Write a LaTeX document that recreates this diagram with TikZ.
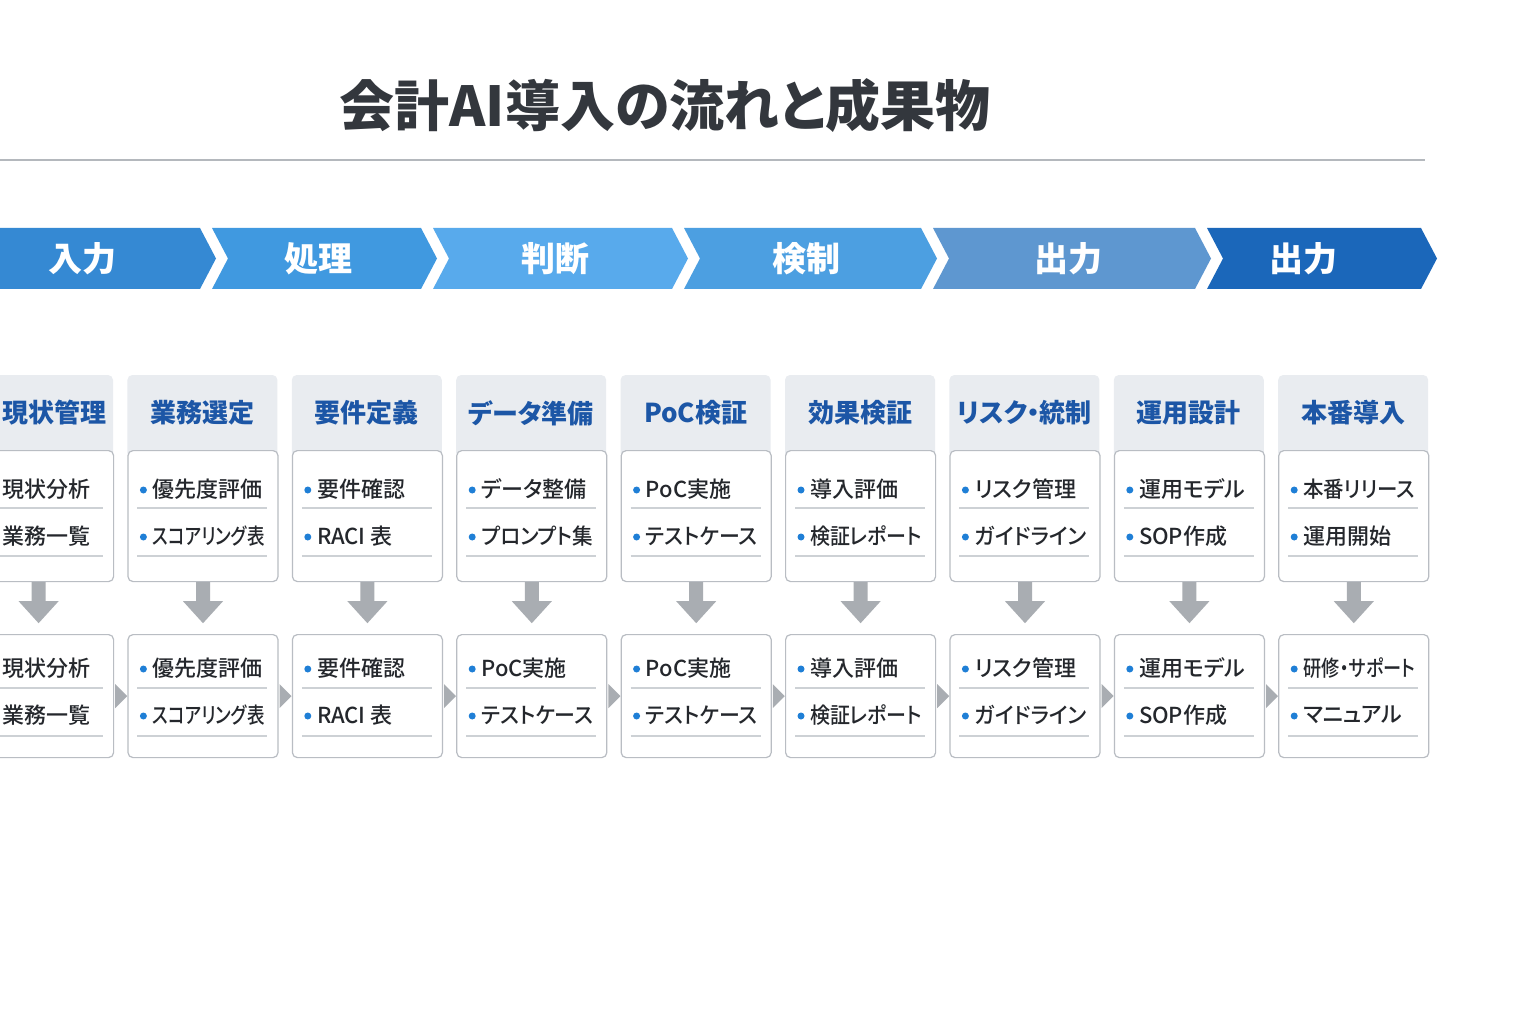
\documentclass[tikz,border=0pt]{standalone}
\usepackage{fontspec}
\setmainfont{Noto Sans CJK JP}[RawFeature=+palt]
\newfontfamily\medjp{Noto Sans CJK JP Medium}[RawFeature=+palt]
\usetikzlibrary{calc}
\definecolor{titlec}{HTML}{33373D}
\definecolor{rulec}{HTML}{B4B8BD}
\definecolor{ch1}{HTML}{3589D3}
\definecolor{ch2}{HTML}{4099E0}
\definecolor{ch3}{HTML}{58AAEC}
\definecolor{ch4}{HTML}{4C9FE1}
\definecolor{ch5}{HTML}{5E97D0}
\definecolor{ch6}{HTML}{1B67BA}
\definecolor{headc}{HTML}{E9ECF0}
\definecolor{headtxt}{HTML}{1C56A6}
\definecolor{boxline}{HTML}{B9BDC3}
\definecolor{sepc}{HTML}{CDD1D5}
\definecolor{itemc}{HTML}{24272C}
\definecolor{bulletc}{HTML}{1F7FD6}
\definecolor{arrc}{HTML}{A9ADB2}
\newsavebox\itembox
\newcommand\fitcap[1]{\sbox\itembox{#1}\ifdim\wd\itembox>112pt\relax\pgfmathsetmacro\fitr{112/(\wd\itembox)}\scalebox{\fitr}[1]{\usebox\itembox}\else\usebox\itembox\fi}
\tikzset{
  chevlabel/.style={text=white, font=\bfseries\fontsize{34}{36}\selectfont, inner sep=0pt},
  headlabel/.style={text=headtxt, font=\bfseries\fontsize{26}{28}\selectfont, inner sep=0pt},
  itemlabel/.style={text=itemc, font=\medjp\fontsize{22}{24}\selectfont, inner sep=0pt, anchor=west},
  cardbox/.style={draw=boxline, line width=1.2pt, fill=white, rounded corners=5pt, minimum width=150pt, inner sep=0pt, anchor=north west},
  sepline/.style={draw=sepc, line width=1.2pt},
  flowarrow/.style={fill=arrc}
}
\begin{document}
\begin{tikzpicture}[x=1pt,y=-1pt]
\useasboundingbox (0,0) rectangle (1536,1024);
\fill[white] (0,0) rectangle (1536,1024);
% title
\node[text=titlec, font=\bfseries\fontsize{55}{60}\selectfont, inner sep=0pt] (title) at (665,106) {会計AI導入の流れと成果物};
\draw[rulec, line width=1.5pt] (0,160) -- (1425,160);
% chevrons
\fill[ch1] (-20,228) -- (200,228) -- (216,258.5) -- (200,289) -- (-20,289) -- cycle;
\node[chevlabel] (c1) at (82,259) {入力};
\foreach \n/\xl/\xr/\cc/\tx/\lab in {2/212/421/ch2/318/処理, 3/433/672/ch3/555/判断, 4/684/921/ch4/806/検制, 5/933/1195/ch5/1068/出力, 6/1207/1421/ch6/1303/出力}{
  \fill[\cc] (\xl,228) -- (\xr,228) -- (\xr+16,258.5) -- (\xr,289) -- (\xl,289) -- (\xl+16,258.5) -- cycle;
  \node[chevlabel] (c\n) at (\tx,259) {\lab};
}
% columns
\foreach \i/\h/\a/\b/\c/\d in {
  0/現状管理/現状分析/業務一覧/現状分析/業務一覧,
  1/業務選定/優先度評価/スコアリング表/優先度評価/スコアリング表,
  2/要件定義/要件確認/RACI 表/要件確認/RACI 表,
  3/データ準備/データ整備/プロンプト集/PoC実施/テストケース,
  4/PoC検証/PoC実施/テストケース/PoC実施/テストケース,
  5/効果検証/導入評価/検証レポート/導入評価/検証レポート,
  6/リスク・統制/リスク管理/ガイドライン/リスク管理/ガイドライン,
  7/運用設計/運用モデル/SOP作成/運用モデル/SOP作成,
  8/本番導入/本番リリース/運用開始/研修・サポート/マニュアル}{
  \pgfmathsetmacro{\L}{-37+164.4*\i}
  \pgfmathsetmacro{\hx}{\i==0 ? 54 : \L+75}
  \pgfmathsetmacro{\tx}{\i==0 ? 2 : \L+25}
  \fill[headc, rounded corners=5pt] (\L,375) rectangle (\L+150,458);
  \node[headlabel] (h\i) at (\hx,413) {\h};
  \node[cardbox, minimum height=131pt] (u\i) at (\L,450) {};
  \node[cardbox, minimum height=123pt] (l\i) at (\L,634) {};
  % upper items
  \fill[bulletc] (\L+16,490) circle[radius=3.5pt];
  \node[itemlabel] (ua\i) at (\tx,489) {\fitcap{\a}};
  \draw[sepline] ($(u\i.north west)+(10,58)$) -- ++(130,0);
  \fill[bulletc] (\L+16,537) circle[radius=3.5pt];
  \node[itemlabel] (ub\i) at (\tx,536) {\fitcap{\b}};
  \draw[sepline] ($(u\i.north west)+(10,106)$) -- ++(130,0);
  % lower items
  \fill[bulletc] (\L+16,669) circle[radius=3.5pt];
  \node[itemlabel] (la\i) at (\tx,668) {\fitcap{\c}};
  \draw[sepline] ($(l\i.north west)+(10,54)$) -- ++(130,0);
  \fill[bulletc] (\L+16,716) circle[radius=3.5pt];
  \node[itemlabel] (lb\i) at (\tx,715) {\fitcap{\d}};
  \draw[sepline] ($(l\i.north west)+(10,102)$) -- ++(130,0);
  % down arrow
  \fill[flowarrow] ($(u\i.south)+(-7,0)$) -- ++(14,0) -- ++(0,19) -- ++(13,0)
     -- ($(u\i.south)+(0,41)$) -- ($(u\i.south)+(-20,19)$) -- ++(13,0) -- cycle;
}
% right arrows between lower cards
\foreach \i in {0,...,7}{
  \fill[flowarrow] ($(l\i.east)+(1,-12)$) -- ++(0,24) -- ++(12,-12) -- cycle;
}
\end{tikzpicture}
\end{document}
